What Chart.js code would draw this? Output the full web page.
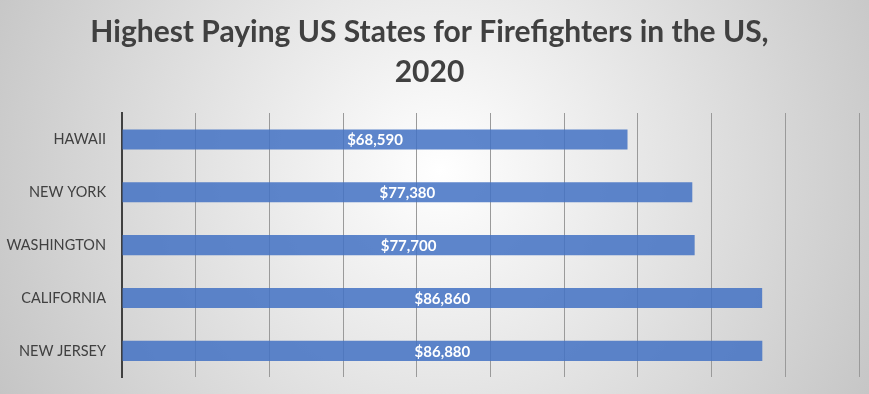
<!DOCTYPE html>
<html>
<head>
<meta charset="utf-8">
<script src="https://cdn.jsdelivr.net/npm/chart.js@4"></script>
<style>
  html, body { margin: 0; padding: 0; background: #fff; }
  #wrap { width: 869px; height: 394px; }
</style>
</head>
<body>
<div id="wrap"><canvas id="payChart" width="869" height="394"></canvas></div>
<script>
const states = ["HAWAII", "NEW YORK", "WASHINGTON", "CALIFORNIA", "NEW JERSEY"];
const salaries = [68590, 77380, 77700, 86860, 86880];
const titleLines = ["Highest Paying US States for Firefighters in the US,", "2020"];

// gray radial backdrop like the office chart style
const backdrop = {
    id: 'backdrop',
    beforeDraw(chart) {
        const ctx = chart.ctx;
        const w = chart.width, h = chart.height;
        const g = ctx.createRadialGradient(440, 170, 0, 440, 170, 560);
        g.addColorStop(0, '#ffffff');
        g.addColorStop(1, '#bdbdbd');
        ctx.save();
        ctx.fillStyle = g;
        ctx.fillRect(0, 0, w, h);
        ctx.restore();
    }
};

// write the dollar value in the middle of each bar
const valueLabels = {
    id: 'valueLabels',
    afterDatasetsDraw(chart) {
        const ctx = chart.ctx;
        const meta = chart.getDatasetMeta(0);
        ctx.save();
        ctx.font = 'bold 15px Lato';
        ctx.fillStyle = '#ffffff';
        ctx.textAlign = 'center';
        ctx.textBaseline = 'middle';
        meta.data.forEach((bar, i) => {
            const p = bar.getProps(['x', 'y', 'base'], true);
            ctx.fillText('$' + salaries[i].toLocaleString('en-US'), (p.x + p.base) / 2, p.y + 1);
        });
        ctx.restore();
    }
};

const ctx = document.getElementById('payChart').getContext('2d');
const payChart = new Chart(ctx, {
    type: 'bar',
    data: {
        labels: states,
        datasets: [{
            data: salaries,
            backgroundColor: 'rgba(68,114,196,0.86)',
            borderWidth: 0,
            categoryPercentage: 1,
            barPercentage: 0.38
        }]
    },
    options: {
        indexAxis: 'y',
        responsive: false,
        animation: false,
        layout: { padding: { left: 0, right: 10, top: 0, bottom: 0 } },
        plugins: {
            legend: { display: false },
            tooltip: { enabled: false },
            title: {
                display: true,
                text: titleLines,
                color: '#404040',
                font: { family: 'Lato', size: 30, weight: 'bold', lineHeight: 1.35 },
                padding: { top: 12, bottom: 20 }
            }
        },
        scales: {
            x: {
                min: 0,
                max: 100000,
                ticks: { display: false, stepSize: 10000 },
                grid: { color: '#9a9a9a', lineWidth: 1, drawTicks: false },
                border: { display: false },
                afterFit(scale) { scale.height = 16; }
            },
            y: {
                ticks: {
                    color: '#404040',
                    font: { family: 'Lato', size: 14.5 },
                    padding: 8
                },
                grid: { display: false },
                border: { display: true, color: '#404040', width: 2 },
                afterFit(scale) { scale.width = 122; }
            }
        }
    },
    plugins: [backdrop, valueLabels]
});
</script>
</body>
</html>
